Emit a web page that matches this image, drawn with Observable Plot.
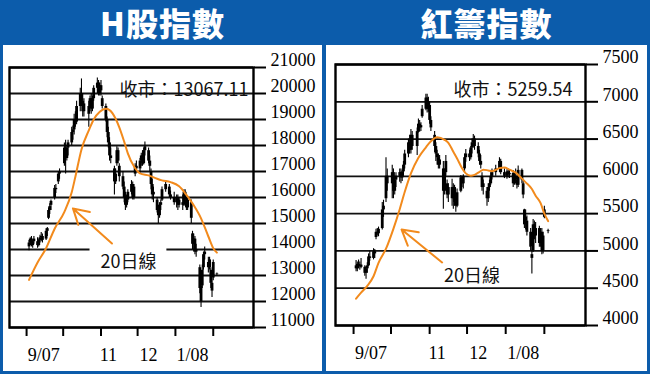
<!DOCTYPE html>
<html><head><meta charset="utf-8">
<script src="https://cdn.jsdelivr.net/npm/d3@7"></script>
<script src="https://cdn.jsdelivr.net/npm/@observablehq/plot@0.6"></script>
<style>
html,body{margin:0;padding:0;}
body{width:650px;height:374px;background:#0c5cab;position:relative;overflow:hidden;font-family:"Noto Sans CJK TC",sans-serif;}
.title{position:absolute;top:0;height:45px;line-height:45px;color:#fff;font-weight:900;font-size:32px;text-align:center;letter-spacing:1px;}
.panel{position:absolute;top:45px;background:#fff;}
.panel svg{display:block;}
</style></head><body>
<div class="title" style="left:3px;width:319px">H股指數</div>
<div class="title" style="left:326px;width:321px">紅籌指數</div>
<div id="p1" class="panel" style="left:3px;width:319px;height:326px"></div>
<div id="p2" class="panel" style="left:326px;width:321px;height:326px"></div>
<script>
// ---------- data ----------
const dates = ["2007-09-03","2007-09-04","2007-09-05","2007-09-06","2007-09-07","2007-09-10","2007-09-11","2007-09-12","2007-09-13","2007-09-14","2007-09-17","2007-09-18","2007-09-19","2007-09-20","2007-09-21","2007-09-24","2007-09-25","2007-09-27","2007-09-28",
"2007-10-02","2007-10-03","2007-10-04","2007-10-05","2007-10-08","2007-10-09","2007-10-10","2007-10-11","2007-10-12","2007-10-15","2007-10-16","2007-10-17","2007-10-18","2007-10-22","2007-10-23","2007-10-24","2007-10-25","2007-10-26","2007-10-29","2007-10-30","2007-10-31",
"2007-11-01","2007-11-02","2007-11-05","2007-11-06","2007-11-07","2007-11-08","2007-11-09","2007-11-12","2007-11-13","2007-11-14","2007-11-15","2007-11-16","2007-11-19","2007-11-20","2007-11-21","2007-11-22","2007-11-23","2007-11-26","2007-11-27","2007-11-28","2007-11-29","2007-11-30",
"2007-12-03","2007-12-04","2007-12-05","2007-12-06","2007-12-07","2007-12-10","2007-12-11","2007-12-12","2007-12-13","2007-12-14","2007-12-17","2007-12-18","2007-12-19","2007-12-20","2007-12-21","2007-12-24","2007-12-27","2007-12-28","2007-12-31",
"2008-01-02","2008-01-03","2008-01-04","2008-01-07","2008-01-08","2008-01-09","2008-01-10","2008-01-11","2008-01-14","2008-01-15","2008-01-16","2008-01-17","2008-01-18","2008-01-21","2008-01-22","2008-01-23","2008-01-24","2008-01-25","2008-01-28","2008-01-29","2008-01-30","2008-01-31",
"2008-02-01","2008-02-04"];

// H shares index (HSCEI)
const hOpen = [14100,14250,14400,14150,14300,14300,14150,14350,14450,14500,14400,14700,15200,15500,15700,16000,16350,16600,16900,
17300,17900,17500,17900,18100,18500,18600,19000,18900,19500,20000,19700,19300,19200,19500,19800,19400,19800,20200,20400,20000,
20300,19800,19500,19000,18500,18100,17600,17100,16600,17300,17800,17200,16800,16400,16000,15700,15900,16200,16500,16000,16900,17200,
17100,17400,17600,17300,17800,17800,17400,17000,16500,16100,15900,15500,15300,15700,15900,16300,16400,16100,16000,
15800,16000,15700,15800,15700,16200,15900,15600,15800,14600,14200,14400,13900,13300,12000,12600,13300,13800,13500,13300,13200,12700,
12900,13050];
const hHigh = [14350,14450,14500,14350,14500,14450,14400,14550,14650,14600,14800,14850,15600,15760,15900,16460,16500,17000,17100,
18100,18200,18000,18200,18700,18750,19200,19300,19700,20200,20560,20000,19800,19700,19900,20000,19900,20300,20600,20500,20400,
20500,19900,19600,19100,18700,18300,17900,17200,17100,17950,17900,17300,17000,16600,16200,16100,16300,16650,16600,16500,17300,17400,
17500,17700,17800,17900,18130,17900,17600,17100,16700,16400,16000,15700,15800,15900,16400,16650,16500,16250,16200,
16100,16100,16000,16100,16300,16300,16000,16000,15900,14700,14600,14500,14200,13400,12800,13400,13900,14100,13700,13700,13300,12900,
13600,13100];
const hLow = [13950,14150,14100,14050,14200,14050,14100,14250,14300,14250,14350,14500,15150,15350,15500,15900,16150,16500,16700,
17200,16900,17400,17600,18000,18200,18400,18700,18800,19300,19500,19100,19100,18700,19300,19200,19300,19700,20000,19900,19900,
19900,19400,18900,18300,17900,17400,17300,16100,16500,17200,17300,16600,16300,15800,15500,15600,15800,16100,15900,15900,16800,17000,
16900,17200,17200,17250,17600,17300,17000,16300,15900,15800,15400,15000,15200,15500,15850,16200,16000,15900,15700,
15600,15500,15600,15500,15650,15800,15500,15500,15000,14000,13900,13800,13700,12300,11770,12500,13200,13600,13100,13200,12500,12150,
12800,12980];
const hClose = [14250,14400,14150,14300,14400,14150,14350,14450,14500,14350,14700,14800,15500,15650,15850,16350,16300,16900,17000,
17900,17500,17900,18100,18500,18600,19000,18900,19500,20000,19700,19300,19600,19500,19800,19400,19800,20200,20400,20000,20300,
20100,19500,19000,18500,18100,17600,17500,16600,16900,17800,17400,16800,16400,16000,15700,15900,16200,16500,16000,16400,17200,17100,
17400,17600,17300,17800,17950,17400,17200,16500,16100,16200,15500,15300,15700,15800,16300,16500,16100,16000,15800,
16000,15700,15900,15700,16200,15900,15600,15900,15200,14200,14400,13900,14000,12500,12600,13200,13800,13900,13300,13600,12700,12400,
13500,13067.11];
const hMaDates = ["2007-09-03","2007-09-10","2007-09-17","2007-09-24","2007-10-02","2007-10-08","2007-10-11","2007-10-16","2007-10-22","2007-10-26","2007-10-31","2007-11-05","2007-11-08","2007-11-13","2007-11-16","2007-11-20","2007-11-23","2007-11-28","2007-12-03","2007-12-10","2007-12-17","2007-12-21","2007-12-28","2008-01-04","2008-01-10","2008-01-16","2008-01-22","2008-01-28","2008-02-01","2008-02-04"];
const hMa = [12830,13500,14050,14800,15450,16200,16800,17850,18580,19000,19300,19410,19360,19030,18700,18150,17700,17200,16930,16850,16720,16660,16590,16430,16100,15700,15200,14500,14050,13880];
const hTicks = [11000,12000,13000,14000,15000,16000,17000,18000,19000,20000,21000];

// Red chips index
const rOpen = [4800,4760,4820,4790,4810,4780,4700,4760,4800,4920,4900,4990,5180,5250,5230,5300,5550,5700,6000,
5900,6050,5800,5950,6000,6050,5980,6060,6150,6300,6450,6350,6550,6400,6600,6700,6650,6800,6900,7050,6900,
6950,6750,6550,6400,6300,6250,6150,6100,5800,6050,5900,5750,5850,5700,5850,5650,5600,5800,5980,5900,6100,6250,
6300,6250,6380,6450,6500,6400,6300,6200,6000,5850,5800,5700,5850,5900,6000,6050,6100,6200,6050,
6000,6060,6020,6040,5900,6000,5950,5880,6080,5900,5550,5450,5400,5250,4900,5000,5350,5200,5300,5100,5250,5000,
5450,5270];
const rHigh = [4870,4850,4880,4850,4900,4800,4790,4840,4960,5000,5030,5020,5290,5300,5320,5650,5680,6250,6100,
6150,6100,6000,6050,6100,6100,6080,6200,6350,6500,6550,6630,6600,6650,6770,6750,6720,6950,7100,7100,7060,
7000,6800,6600,6450,6350,6300,6280,6200,6100,6280,5950,5900,5960,5900,5880,5750,5830,6010,6000,6020,6300,6360,
6350,6400,6500,6560,6540,6450,6350,6280,6050,5950,5850,5900,5950,6050,6100,6150,6250,6230,6100,
6090,6100,6080,6080,6050,6100,6000,6140,6100,5950,5560,5550,5470,5300,5050,5420,5400,5380,5330,5300,5300,5250,
5600,5290];
const rLow = [4720,4720,4760,4740,4760,4660,4620,4700,4790,4860,4880,4900,5150,5200,5190,5280,5450,5650,5800,
5700,5700,5750,5850,5920,5900,5930,6000,6100,6250,6300,6300,6350,6280,6580,6590,6600,6780,6880,6850,6860,
6700,6600,6320,6200,6150,6100,6100,5560,5750,6000,5700,5650,5600,5560,5600,5520,5580,5780,5850,5830,6050,6190,
6200,6220,6300,6380,6350,6250,6150,6100,5800,5750,5600,5650,5800,5880,5950,6000,6050,6020,5970,
5960,5980,5970,5850,5880,5900,5830,5850,5900,5700,5300,5280,5200,5000,4690,4980,5150,5100,5050,5050,4950,4960,
5430,5230];
const rClose = [4760,4820,4790,4810,4780,4700,4760,4800,4920,4900,4990,4960,5250,5230,5290,5550,5600,6000,5900,
6050,5800,5950,6000,6050,5980,6060,6150,6300,6450,6350,6550,6400,6600,6700,6650,6680,6900,7050,6900,7000,
6750,6650,6400,6300,6250,6150,6220,5800,6050,6200,5750,5850,5700,5850,5650,5600,5780,5980,5900,6000,6250,6300,
6250,6380,6450,6500,6400,6300,6200,6150,5850,5900,5700,5850,5900,6000,6050,6100,6200,6050,6000,
6060,6020,6040,5900,6000,5950,5880,6080,5950,5750,5350,5400,5250,5050,4950,5350,5200,5300,5100,5250,5000,5200,
5550,5259.54];
const rMaDates = ["2007-09-03","2007-09-07","2007-09-12","2007-09-17","2007-09-21","2007-09-27","2007-10-03","2007-10-08","2007-10-12","2007-10-17","2007-10-23","2007-10-29","2007-11-02","2007-11-07","2007-11-13","2007-11-16","2007-11-20","2007-11-23","2007-11-27","2007-11-30","2007-12-04","2007-12-07","2007-12-11","2007-12-14","2007-12-18","2007-12-21","2007-12-27","2007-12-31","2008-01-04","2008-01-09","2008-01-14","2008-01-17","2008-01-22","2008-01-25","2008-01-29","2008-02-01","2008-02-04"];
const rMa = [4360,4440,4530,4660,4840,5030,5300,5560,5790,6040,6250,6390,6470,6525,6490,6450,6330,6240,6110,6040,6008,6020,6060,6090,6080,6070,6110,6120,6090,6050,5970,5920,5830,5740,5640,5500,5400];
const rTicks = [4000,4500,5000,5500,6000,6500,7000,7500];

const monthStarts = ["2007-09-01","2007-10-01","2007-11-01","2007-12-01","2008-01-01","2008-02-01"];
const xLabels = ["9/07","11","12","1/08"];
const xLabelDates = ["2007-09-15","2007-11-07","2007-12-10","2008-01-15"];
const maLabel = "20日線";
const hCloseLabel = "收市：13067.11";
const rCloseLabel = "收市：5259.54";

// ---------- drawing ----------
const ORANGE = "#f28a1c";
const D = s => new Date(s);
function bars(o,h,l,c){ return dates.map((d,i)=>({date:D(d),open:o[i],high:h[i],low:l[i],close:c[i]})); }
function maData(ds,vs){ return ds.map((d,i)=>({date:D(d),value:vs[i]})); }

function panel(cfg){
  const data = bars(cfg.o,cfg.h,cfg.l,cfg.c);
  return Plot.plot({
    width: cfg.width, height: 326,
    marginLeft: cfg.ml, marginRight: cfg.mr, marginTop: cfg.mt, marginBottom: cfg.mb,
    style: {background:"white", overflow:"visible", color:"black"},
    x: {type:"utc", domain: cfg.xDomain},
    y: {domain: cfg.yDomain},
    marks: [
      Plot.ruleY(cfg.ticks, {y: d=>d, stroke:"#111", strokeWidth:1.8}),
      cfg.gap ? Plot.rect([cfg.gap], {x1:d=>D(d.x1), x2:d=>D(d.x2), y1:"y1", y2:"y2", fill:"white"}) : null,
      Plot.ruleX(data, {x:"date", y1:"low", y2:"high", stroke:"black", strokeWidth:1.1}),
      Plot.ruleX(data, {x:"date", y1:"open", y2:"close", stroke:"black", strokeWidth:2.8}),
      Plot.line(maData(cfg.maD, cfg.ma), {x:"date", y:"value", stroke:ORANGE, strokeWidth:2, curve:"monotone-x"}),
      Plot.arrow([cfg.arrow], {x1:d=>D(d.x1), y1:"y1", x2:d=>D(d.x2), y2:"y2", stroke:ORANGE, strokeWidth:2, headLength:13, headAngle:60}),
      Plot.text([cfg.note], {x:d=>D(d.x), y:"y", text:()=>maLabel, fontSize:18, fontFamily:"Noto Sans CJK TC", fill:"#111"}),
      Plot.text([cfg.closeLabel], {text:d=>d, frameAnchor:"top-right", textAnchor:"end", dx:cfg.cdx, dy:cfg.cdy, fontSize:18, fontFamily:"Noto Sans CJK TC", fill:"#111"}),
      Plot.frame({stroke:"black", strokeWidth:2.4}),
      Plot.axisY(cfg.ticks, {anchor:"right", tickSize:12, strokeWidth:2, fill:"none", label:null}),
      Plot.axisY(cfg.ticks, {anchor:"right", tickSize:12, tickPadding:5, stroke:"none", dy:-7, fontSize:18, fontFamily:"Liberation Serif", fill:"black", label:null, tickFormat:d=>String(d)}),
      Plot.axisX(monthStarts.map(D), {anchor:"bottom", tickSize:9, strokeWidth:2, fill:"none", label:null}),
      Plot.text(xLabels, {x:(d,i)=>D(xLabelDates[i]), text:d=>d, frameAnchor:"bottom", dy:33, fontSize:18, fontFamily:"Liberation Serif", fill:"black"})
    ]
  });
}

document.getElementById("p1").append(panel({
  o:hOpen,h:hHigh,l:hLow,c:hClose, maD:hMaDates, ma:hMa, ticks:hTicks,
  width:319, ml:6, mr:69, mt:22, mb:44,
  xDomain:[D("2007-08-18"), D("2008-03-05")], yDomain:[11000,21000],
  gap:{x1:"2007-10-23", x2:"2007-12-25", y1:13880, y2:14120},
  arrow:{x1:"2007-11-10", y1:14230, x2:"2007-10-09", y2:15580},
  note:{x:"2007-11-23T12:00Z", y:13500},
  closeLabel:hCloseLabel, cdx:-5, cdy:16
}));
document.getElementById("p2").append(panel({
  o:rOpen,h:rHigh,l:rLow,c:rClose, maD:rMaDates, ma:rMa, ticks:rTicks,
  width:321, ml:9, mr:62, mt:19, mb:46,
  xDomain:[D("2007-08-17T12:00Z"), D("2008-03-05")], yDomain:[4000,7500],
  gap:null,
  arrow:{x1:"2007-11-11", y1:4845, x2:"2007-10-09T12:00Z", y2:5287},
  note:{x:"2007-12-05", y:4657},
  closeLabel:rCloseLabel, cdx:-13, cdy:19
}));
</script>
</body></html>
